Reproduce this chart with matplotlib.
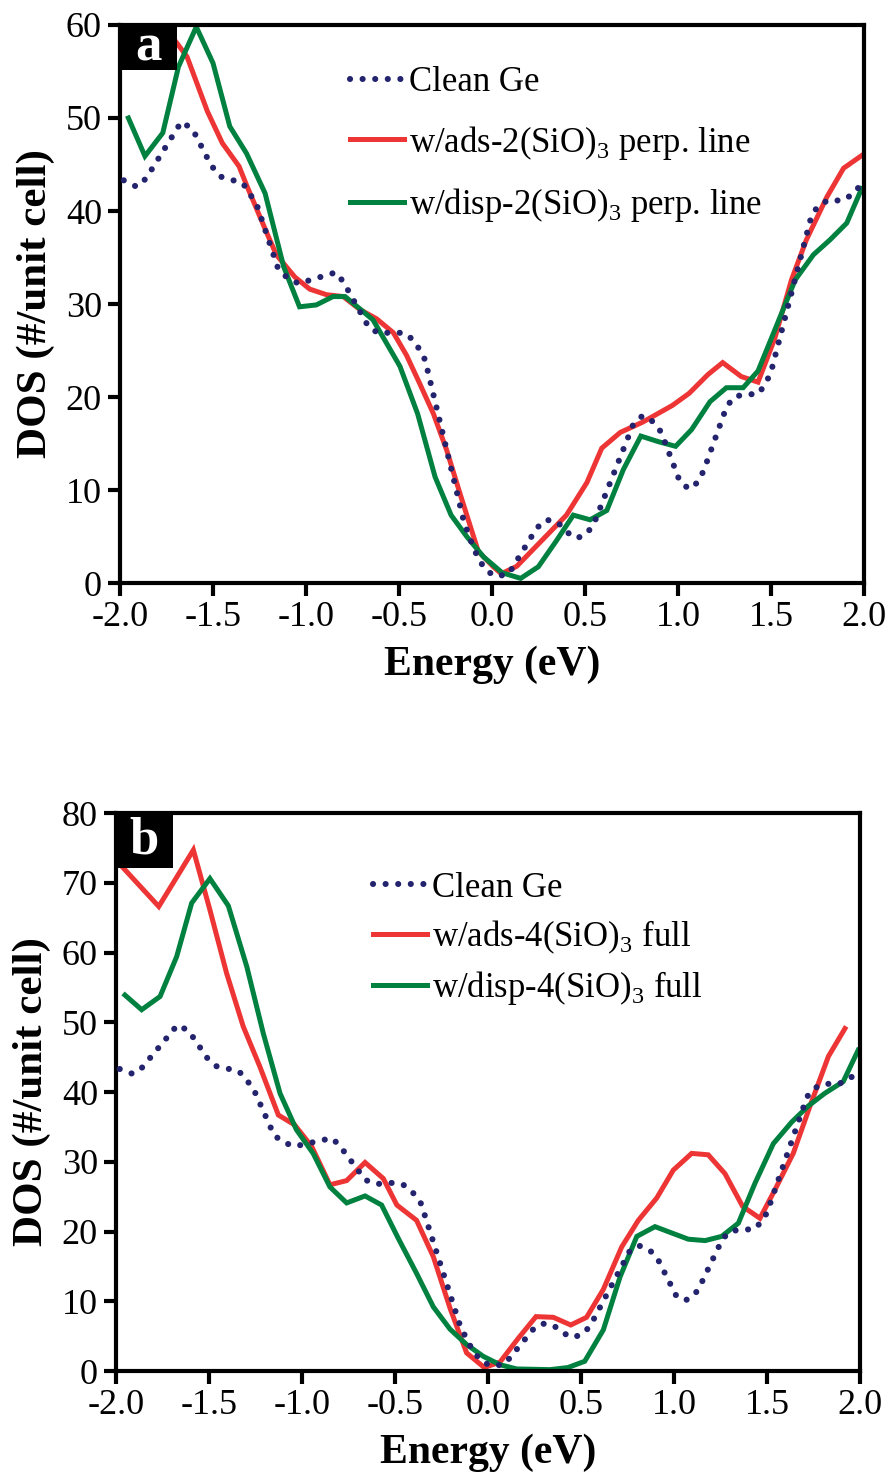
import matplotlib
matplotlib.use("Agg")
import matplotlib.pyplot as plt
from matplotlib.patches import Rectangle

plt.rcParams["font.family"] = ["Liberation Serif", "DejaVu Serif"]
plt.rcParams["mathtext.fontset"] = "custom"
plt.rcParams["mathtext.rm"] = "Liberation Serif"
plt.rcParams["axes.unicode_minus"] = False

# Clean Ge surface DOS (shared by both panels)
clean_e = [-1.98, -1.91, -1.86, -1.67, -1.61, -1.51, -1.46, -1.34, -1.30, -1.26,
           -1.15, -1.10, -1.04, -0.84, -0.80, -0.66, -0.60, -0.53, -0.46, -0.41,
           -0.36, -0.15, -0.10, -0.07, -0.03, 0.025, 0.09, 0.24, 0.29, 0.35,
           0.40, 0.455, 0.51, 0.55, 0.76, 0.81, 0.87, 0.91, 1.01, 1.06,
           1.11, 1.14, 1.26, 1.30, 1.36, 1.43, 1.47, 1.50, 1.715, 1.75,
           1.81, 1.88, 1.94, 1.99]
clean_dos = [43.3, 42.6, 43.5, 49.6, 48.8, 44.9, 43.7, 43.0, 41.8, 40.4,
             33.8, 32.8, 32.2, 33.4, 32.4, 27.4, 26.8, 27.0, 26.8, 25.8,
             24.0, 6.5, 3.8, 2.5, 1.3, 0.7, 1.0, 5.9, 6.8, 6.6,
             5.5, 4.8, 5.3, 6.5, 17.1, 18.0, 17.3, 16.2, 10.9, 10.1,
             10.9, 12.2, 18.9, 20.0, 20.3, 20.3, 21.4, 22.7, 39.3, 40.5,
             41.2, 41.1, 41.8, 43.0]

# Panel a: perpendicular-line configurations
ads2_e = [-1.80, -1.70, -1.64, -1.53, -1.45, -1.36, -1.32, -1.21, -1.16, -1.06,
          -0.98, -0.89, -0.80, -0.71, -0.62, -0.53, -0.46, -0.39, -0.315, -0.244,
          -0.172, -0.074, 0.007, 0.05, 0.133, 0.40, 0.51, 0.59, 0.69, 0.81,
          0.97, 1.06, 1.16, 1.24, 1.34, 1.43, 1.52, 1.61, 1.69, 1.80,
          1.89, 1.99]
ads2_dos = [61.0, 58.2, 56.6, 50.7, 47.3, 44.8, 42.8, 37.6, 35.3, 32.9,
            31.6, 31.0, 30.8, 29.4, 28.4, 26.9, 24.5, 21.5, 18.2, 14.3,
            9.6, 3.4, 1.75, 1.0, 1.8, 7.3, 10.8, 14.5, 16.2, 17.3,
            19.1, 20.4, 22.4, 23.7, 22.2, 21.6, 26.3, 32.6, 36.9, 41.5,
            44.6, 46.0]

disp2_e = [-1.955, -1.866, -1.77, -1.686, -1.59, -1.50, -1.41, -1.32, -1.22, -1.12,
           -1.035, -0.945, -0.855, -0.79, -0.64, -0.495, -0.40, -0.306, -0.22, -0.136,
           -0.045, 0.055, 0.154, 0.249, 0.348, 0.437, 0.527, 0.617, 0.706, 0.80,
           0.894, 0.987, 1.073, 1.172, 1.26, 1.35, 1.43, 1.52, 1.63, 1.728,
           1.817, 1.907, 1.987]
disp2_dos = [50.0, 45.9, 48.4, 55.5, 59.8, 55.9, 49.1, 46.2, 41.9, 34.0,
             29.7, 29.9, 30.8, 30.8, 28.3, 23.3, 18.2, 11.4, 7.3, 5.0,
             2.8, 1.1, 0.5, 1.75, 4.6, 7.3, 6.8, 7.8, 12.2, 15.8,
             15.2, 14.7, 16.5, 19.5, 21.0, 21.0, 22.8, 27.2, 32.6, 35.3,
             36.9, 38.7, 42.4]

# Panel b: full-coverage configurations
ads4_e = [-1.96, -1.77, -1.584, -1.495, -1.405, -1.316, -1.226, -1.127, -1.04, -0.948,
          -0.85, -0.76, -0.661, -0.563, -0.49, -0.384, -0.294, -0.204, -0.115, -0.02,
          0.065, 0.163, 0.258, 0.351, 0.445, 0.53, 0.62, 0.719, 0.808, 0.907,
          0.996, 1.095, 1.184, 1.274, 1.369, 1.462, 1.543, 1.641, 1.73, 1.83,
          1.919]
ads4_dos = [72.1, 66.6, 74.7, 66.1, 57.0, 49.4, 43.6, 36.7, 35.3, 32.2,
            26.7, 27.3, 29.9, 27.6, 23.8, 21.6, 16.4, 9.0, 2.6, 0.5,
            1.3, 4.7, 7.8, 7.7, 6.6, 7.7, 11.7, 17.8, 21.6, 24.8,
            28.8, 31.2, 31.0, 28.3, 23.6, 21.9, 26.0, 31.2, 37.9, 45.1,
            49.1]

disp4_e = [-1.952, -1.862, -1.763, -1.674, -1.593, -1.495, -1.396, -1.297, -1.208, -1.118,
           -1.03, -0.94, -0.85, -0.76, -0.661, -0.572, -0.482, -0.384, -0.294, -0.204,
           -0.115, -0.025, 0.065, 0.154, 0.333, 0.43, 0.52, 0.62, 0.71, 0.80,
           0.898, 0.987, 1.077, 1.167, 1.256, 1.346, 1.435, 1.534, 1.633, 1.722,
           1.81, 1.91, 1.99]
disp4_dos = [53.9, 51.8, 53.7, 59.4, 67.1, 70.6, 66.7, 58.0, 48.4, 39.8,
             34.6, 31.2, 26.4, 24.1, 25.1, 23.8, 19.0, 14.0, 9.2, 6.0,
             3.8, 2.1, 0.9, 0.3, 0.2, 0.5, 1.4, 5.9, 13.5, 19.3,
             20.7, 19.8, 18.9, 18.7, 19.3, 21.2, 26.9, 32.6, 35.7, 38.0,
             39.8, 41.5, 46.0]

x_ticks = [-2.0, -1.5, -1.0, -0.5, 0.0, 0.5, 1.0, 1.5, 2.0]

NAVY = "#23236e"
RED = "#ee3535"
GREEN = "#00813f"

fig = plt.figure(figsize=(8.95, 14.79), dpi=100)
ax_a = fig.add_axes([0.1341, 0.6058, 0.8313, 0.3773])
ax_b = fig.add_axes([0.1296, 0.0730, 0.8313, 0.3773])


def draw_panel(ax, series, ymax, letter, box_h, leg_anchor, leg_spacing):
    ax.plot(clean_e, clean_dos, color=NAVY, lw=4.4, linestyle=(0, (0.01, 2.05)),
            dash_capstyle="round", solid_capstyle="round", label="Clean Ge", zorder=3)
    for e, d, c, lab in series:
        ax.plot(e, d, color=c, lw=3.6, solid_joinstyle="miter", label=lab, zorder=2)
    ax.set_xlim(-2.0, 2.0)
    ax.set_ylim(0, ymax)
    ax.set_xticks(x_ticks)
    ax.set_xticklabels([f"{t:.1f}" for t in x_ticks])
    ax.set_yticks(range(0, ymax + 1, 10))
    for s in ax.spines.values():
        s.set_linewidth(3.0)
    ax.tick_params(axis="both", which="major", direction="out", length=9, width=3.0,
                   labelsize=26, pad=4, top=False, right=False)
    ax.set_xlabel("Energy (eV)", fontsize=30, fontweight="bold", labelpad=8)
    ax.set_ylabel("DOS (#/unit cell)", fontsize=31, fontweight="bold", labelpad=8)
    ax.add_patch(Rectangle((0, 1 - box_h), 0.076, box_h, transform=ax.transAxes,
                           facecolor="black", edgecolor="none", zorder=10, clip_on=False))
    ax.text(0.038, 1 - box_h / 2, letter, transform=ax.transAxes, color="white",
            fontsize=38, fontweight="bold", ha="center", va="center", zorder=11)
    leg = ax.legend(loc="upper left", bbox_to_anchor=leg_anchor, frameon=False,
                    fontsize=25, handlelength=1.55, handletextpad=0.15,
                    labelspacing=leg_spacing, borderaxespad=0, borderpad=0)
    return leg


draw_panel(ax_a,
           [(ads2_e, ads2_dos, RED, r"w/ads-2(SiO)$_3$ perp. line"),
            (disp2_e, disp2_dos, GREEN, r"w/disp-2(SiO)$_3$ perp. line")],
           60, "a", 0.081, (0.309, 0.926), 0.70)
draw_panel(ax_b,
           [(ads4_e, ads4_dos, RED, r"w/ads-4(SiO)$_3$ full"),
            (disp4_e, disp4_dos, GREEN, r"w/disp-4(SiO)$_3$ full")],
           80, "b", 0.099, (0.346, 0.895), 0.39)

fig.savefig("out.png", dpi=100)
